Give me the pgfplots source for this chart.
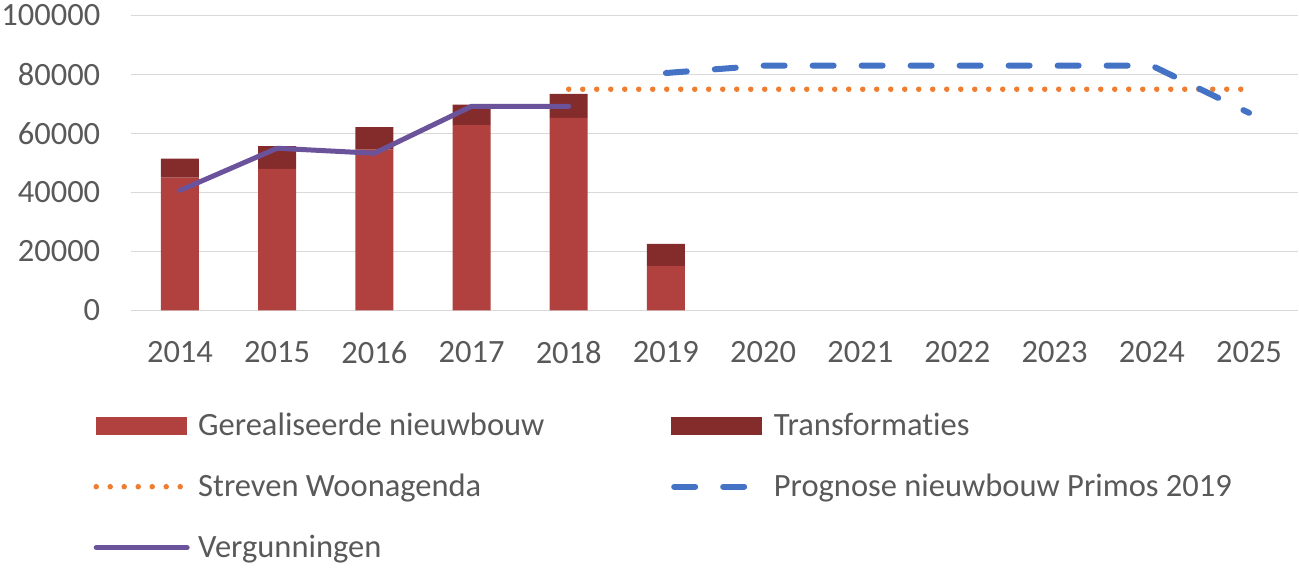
\documentclass[border=0pt]{standalone}
\usepackage{pgfplots}
\usepackage{pgfplotstable}
\pgfplotsset{compat=1.18}
\usepackage{fontspec}
\setmainfont[Ligatures=NoCommon]{Carlito}
\definecolor{txt}{HTML}{595959}
\definecolor{gridc}{HTML}{D9D9D9}
\definecolor{cRed}{HTML}{B0413E}
\definecolor{cDark}{HTML}{842B2B}
\definecolor{cOrange}{HTML}{ED7D31}
\definecolor{cBlue}{HTML}{4472C4}
\definecolor{cPurple}{HTML}{6B539B}

\pgfplotstableread{
year nieuw trans
2014 45000 6500
2015 48000 7700
2016 54500 7700
2017 62800 7000
2018 65300 8100
2019 15000 7600
}\bars
\pgfplotstableread{
year val
2018 75000
2025 75000
}\streven
\pgfplotstableread{
year val
2019 80500
2020 83000
2021 83000
2022 83000
2023 83000
2024 83000
2025 67000
}\prognose
\pgfplotstableread{
year val
2014 40700
2015 55000
2016 53300
2017 69200
2018 69200
}\vergun

\newcommand{\bigf}{\fontsize{32.5}{39}\selectfont}
\pgfplotsset{
  common/.style={
    scale only axis, width=1166.2pt, height=295pt,
    xmin=2013.5, xmax=2025.5, ymin=0, ymax=100000,
    xtick={2014,2015,...,2025}, ytick={0,20000,...,100000},
    xticklabels={2014,2015,2016,2017,2018,2019,2020,2021,2022,2023,2024,2025},
    yticklabels={0,20000,40000,60000,80000,100000},
    scaled y ticks=false, scaled x ticks=false,
    clip=false,
  },
  legRed/.style={legend image code/.code={\fill[cRed] (0pt,-6.7pt) rectangle (90pt,10.7pt);}},
  legDark/.style={legend image code/.code={\fill[cDark] (0pt,-6.7pt) rectangle (90pt,10.7pt);}},
  legOrange/.style={legend image code/.code={\draw[##1] (0pt,2pt) -- (85pt,2pt);}},
  legBlue/.style={legend image code/.code={\draw[##1] (3pt,2pt) -- (80pt,2pt);}},
  legPurple/.style={legend image code/.code={\draw[##1] (0pt,2pt) -- (91pt,2pt);}},
}

\begin{document}
\begin{tikzpicture}[font=\bigf]
\useasboundingbox (-131.4pt,-258.5pt) rectangle (1167.6pt,310.5pt);
\begin{axis}[common,
  ybar stacked, bar width=38pt,
  axis line style={draw=none},
  major tick length=0pt, tick style={draw=none},
  ymajorgrids, grid style={gridc, line width=1.5pt},
  ticklabel style={font=\bigf, text=txt},
  yticklabel style={anchor=east, inner sep=0pt, xshift=-31pt},
  xticklabel style={anchor=north, inner sep=0pt, yshift=-31pt},
]
\addplot[fill=cRed, draw=none] table[x=year, y=nieuw]{\bars};
\addplot[fill=cDark, draw=none] table[x=year, y=trans]{\bars};
\end{axis}
\begin{axis}[common, hide axis,
  legend columns=2,
  legend cell align=left,
  legend style={
    at={(axis description cs:0,0)}, anchor=north west,
    xshift=-38.15pt, yshift=-102.5pt,
    draw=none, fill=none, inner sep=0pt,
    row sep=32pt,
    font=\bigf, text=txt,
    nodes={inner sep=0pt, text height=22pt, text depth=7pt},
    /tikz/column 1/.style={column sep=8.5pt},
    /tikz/column 2/.style={column sep=126.5pt},
    /tikz/column 3/.style={column sep=12.5pt},
  },
]
\addlegendimage{legRed}
\addlegendentry{Gerealiseerde nieuwbouw}
\addlegendimage{legDark}
\addlegendentry{Transformaties}
\addplot[cOrange, line width=5.5pt, line cap=round, dash pattern=on 0pt off 14pt, legOrange]
  table[x=year, y=val]{\streven};
\addlegendentry{Streven Woonagenda}
\addplot[cBlue, line width=6pt, line cap=round, dash pattern=on 21pt off 28pt, legBlue]
  table[x=year, y=val]{\prognose};
\addlegendentry{Prognose nieuwbouw Primos 2019}
\addplot[cPurple, line width=5pt, line cap=round, line join=round, legPurple]
  table[x=year, y=val]{\vergun};
\addlegendentry{Vergunningen}
\end{axis}
\end{tikzpicture}
\end{document}
